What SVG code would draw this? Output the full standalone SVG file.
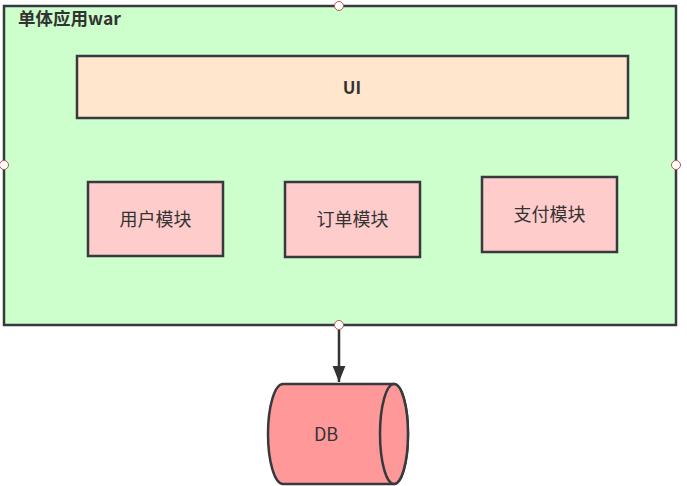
<svg xmlns="http://www.w3.org/2000/svg" width="687" height="486" viewBox="0 0 687 486">
<style>
text{font-family:"Noto Sans CJK SC","Liberation Sans",sans-serif;fill:#333333}
.box{stroke:#36393d;stroke-width:2.5}
.handle{fill:#ffffff;stroke:#b85450;stroke-width:1}
.lbl{font-size:18px;text-anchor:middle}
</style>
<defs>
<marker id="arr" markerWidth="16" markerHeight="20" refX="20" refY="8" orient="auto" markerUnits="userSpaceOnUse" viewBox="0 0 20 16">
<path d="M0,0 L20,8 L0,16 Z" fill="#333333"/>
</marker>
</defs>
<rect width="687" height="486" fill="#ffffff"/>
<g id="war">
<rect class="box" x="4" y="6" width="672" height="319" fill="#ccffcc"/>
<text x="18" y="25" font-size="17.5" font-weight="bold">单体应用war</text>
</g>
<g id="ui">
<rect class="box" x="77" y="56" width="551" height="62" fill="#ffe6cc"/>
<text x="352" y="94" font-size="17" font-weight="bold" text-anchor="middle">UI</text>
</g>
<g id="user">
<rect class="box" x="88" y="182" width="135" height="74" fill="#ffcccc"/>
<text class="lbl" x="155.5" y="226">用户模块</text>
</g>
<g id="order">
<rect class="box" x="285" y="182" width="135" height="75" fill="#ffcccc"/>
<text class="lbl" x="352.5" y="226">订单模块</text>
</g>
<g id="pay">
<rect class="box" x="482" y="177" width="135" height="75" fill="#ffcccc"/>
<text class="lbl" x="549.5" y="221">支付模块</text>
</g>
<g id="db">
<path class="box" d="M283,384 L394,384 A14,50 0 0 1 394,484 L283,484 A15,50 0 0 1 283,384 Z" fill="#ff9999"/>
<ellipse class="box" cx="394" cy="434" rx="14" ry="50" fill="#ff9999"/>
<text class="lbl" x="326" y="441" font-size="19">DB</text>
</g>
<g id="connectors">
<line x1="339" y1="325" x2="339" y2="382" stroke="#333333" stroke-width="2.5" marker-end="url(#arr)"/>
</g>
<g id="handles">
<circle class="handle" cx="339" cy="6" r="4.5"/>
<circle class="handle" cx="4" cy="165" r="4.5"/>
<circle class="handle" cx="676" cy="165" r="4.5"/>
<circle class="handle" cx="339" cy="325" r="4.5"/>
</g>
</svg>
